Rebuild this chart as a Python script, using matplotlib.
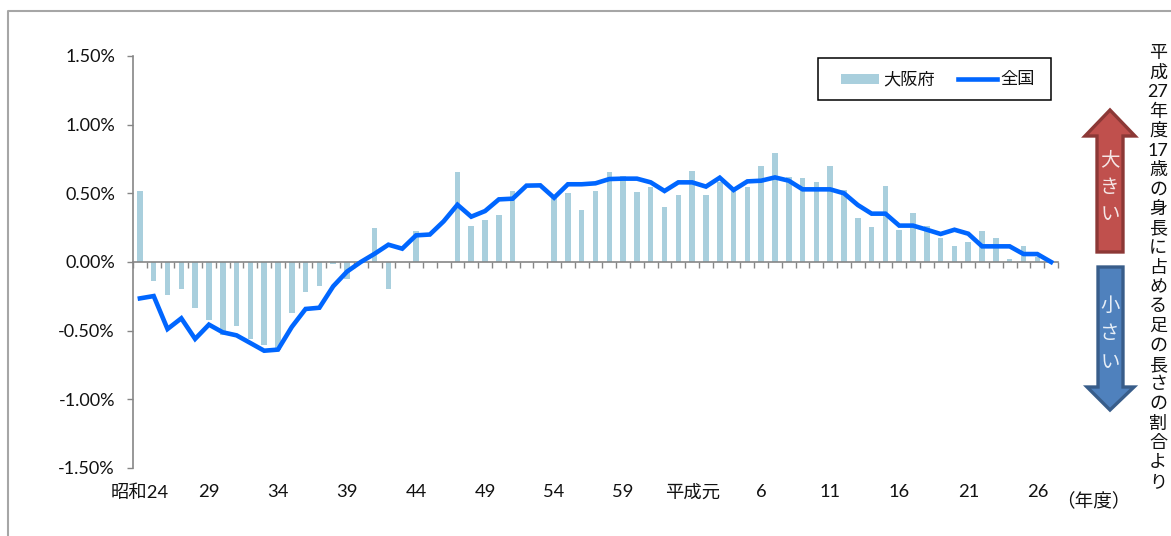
import matplotlib
matplotlib.use("Agg")
import matplotlib.pyplot as plt
from matplotlib.patches import Polygon, Rectangle
from matplotlib.lines import Line2D
from matplotlib.ticker import FixedLocator, FuncFormatter
import numpy as np

plt.rcParams['font.family'] = ['Lato', 'Noto Sans CJK JP', 'DejaVu Sans']

osaka = [0.515, -0.135, -0.24, -0.197, -0.337, -0.425, -0.534, -0.468, -0.558, -0.607,
         -0.638, -0.374, -0.22, -0.177, -0.017, -0.126, 0.0, 0.25, -0.2, 0.0,
         0.226, 0.0, 0.0, 0.655, 0.265, 0.306, 0.342, 0.515, 0.0, 0.0,
         0.478, 0.502, 0.381, 0.519, 0.658, 0.629, 0.512, 0.546, 0.398, 0.488,
         0.665, 0.49, 0.58, 0.527, 0.549, 0.70, 0.796, 0.616, 0.609, 0.585,
         0.70, 0.522, 0.323, 0.257, 0.551, 0.23, 0.354, 0.265, 0.172, 0.114,
         0.146, 0.228, 0.175, 0.02, 0.119, 0.036, 0.0]
national = [-0.265, -0.248, -0.488, -0.41, -0.56, -0.456, -0.512, -0.534, -0.59, -0.646,
            -0.638, -0.473, -0.342, -0.333, -0.177, -0.07, 0.0, 0.06, 0.126, 0.097,
            0.194, 0.2, 0.296, 0.417, 0.33, 0.371, 0.456, 0.461, 0.556, 0.558,
            0.468, 0.566, 0.566, 0.573, 0.604, 0.607, 0.607, 0.58, 0.517, 0.58,
            0.58, 0.549, 0.614, 0.524, 0.587, 0.592, 0.616, 0.592, 0.529, 0.529,
            0.529, 0.5, 0.415, 0.352, 0.352, 0.265, 0.265, 0.235, 0.204, 0.235,
            0.206, 0.114, 0.114, 0.114, 0.058, 0.058, 0.0]
year_labels = ['昭和24', '29', '34', '39', '44', '49', '54', '59', '平成元', '6', '11', '16', '21', '26']
y_ticks = [-1.5, -1.0, -0.5, 0.0, 0.5, 1.0, 1.5]
series_names = ['大阪府', '全国']
side_title = ['平', '成', '27', '年', '度', '17', '歳', 'の', '身', '長', 'に', '占', 'め', 'る',
              '足', 'の', '長', 'さ', 'の', '割', '合', 'よ', 'り']

W, H = 1171, 536
def fx(x): return x / W
def fy(y): return 1 - y / H
def pts(p): return [(fx(a), fy(b)) for a, b in p]

fig = plt.figure(figsize=(W / 100, H / 100), dpi=100, facecolor='white')
ax = fig.add_axes([fx(133), fy(468), (1058 - 133) / W, (468 - 56) / H])

GRAY = '#868686'
x = np.arange(len(osaka))
ax.bar(x, osaka, width=0.4, color='#A9CFDD', zorder=2)
ax.plot(x, national, color='#0066FF', lw=3.3, solid_joinstyle='miter', zorder=3)

ax.set_xlim(-0.5, 66.5)
ax.set_ylim(-1.5, 1.5)
for s in ('top', 'right'):
    ax.spines[s].set_visible(False)
ax.spines['bottom'].set_position(('data', 0))
ax.spines['bottom'].set_color(GRAY)
ax.spines['left'].set_color(GRAY)
ax.spines['bottom'].set_linewidth(1.2)
ax.spines['left'].set_linewidth(1.2)

ax.set_yticks(y_ticks)
ax.yaxis.set_major_formatter(FuncFormatter(lambda v, p: f'{v:.2f}%'))
ax.tick_params(axis='y', length=4.5, width=1.0, color=GRAY, pad=8.5, labelsize=13, labelcolor='#111111')

ax.set_xticks(np.arange(0, 67, 5))
ax.set_xticklabels(year_labels)
ax.xaxis.set_minor_locator(FixedLocator(np.arange(-0.5, 67, 1)))
ax.tick_params(axis='x', which='major', length=0, pad=160, labelsize=13.2, labelcolor='#111111')
ax.tick_params(axis='x', which='minor', length=4.3, width=1.0, color=GRAY)

# outer frame
fig.add_artist(Line2D([fx(8), fx(8), 1], [0, fy(11), fy(11)], transform=fig.transFigure,
                      color='#A6A6A6', lw=1.5))

# legend box (drawn by hand to match placement)
fig.add_artist(Rectangle((fx(818), fy(100)), 233 / W, 42 / H, transform=fig.transFigure,
                         fc='white', ec='black', lw=1.1, zorder=5))
fig.add_artist(Rectangle((fx(841), fy(84)), 38 / W, 10 / H, transform=fig.transFigure,
                         fc='#A9CFDD', ec='none', zorder=6))
fig.add_artist(Line2D([fx(958), fx(997)], [fy(79), fy(79)], transform=fig.transFigure,
                      color='#0066FF', lw=3.3, zorder=6))
fig.text(fx(883), fy(79), series_names[0], ha='left', va='center', fontsize=12.4, color='#111111', zorder=7)
fig.text(fx(1000), fy(79), series_names[1], ha='left', va='center', fontsize=12.4, color='#111111', zorder=7)

# arrows
up = [(1110, 110), (1135, 136), (1123, 136), (1123, 252), (1097, 252), (1097, 136), (1085, 136)]
down = [(1098, 267), (1123, 267), (1123, 387), (1134, 387), (1110, 410), (1087, 387), (1098, 387)]
fig.add_artist(Polygon(pts(up), closed=True, transform=fig.transFigure, fc='#C0504D', ec='#8C3836', lw=2.4, joinstyle='miter'))
fig.add_artist(Polygon(pts(down), closed=True, transform=fig.transFigure, fc='#4F81BD', ec='#385D8A', lw=2.4, joinstyle='miter'))
for ch, yy in zip('大きい', (159, 188, 215)):
    fig.text(fx(1110), fy(yy), ch, ha='center', va='center', fontsize=14, color='#F5E6E6')
for ch, yy in zip('小さい', (305, 333, 362)):
    fig.text(fx(1110), fy(yy), ch, ha='center', va='center', fontsize=14, color='#E6EEF7')

# stacked side title
for i, ch in enumerate(side_title):
    fig.text(fx(1158), fy(53 + i * 19.5), ch, ha='center', va='center', fontsize=13, color='#111111')

fig.text(fx(1093), fy(501), '（年度）', ha='center', va='center', fontsize=13.4, color='#111111')

fig.savefig('out.png', dpi=100)
